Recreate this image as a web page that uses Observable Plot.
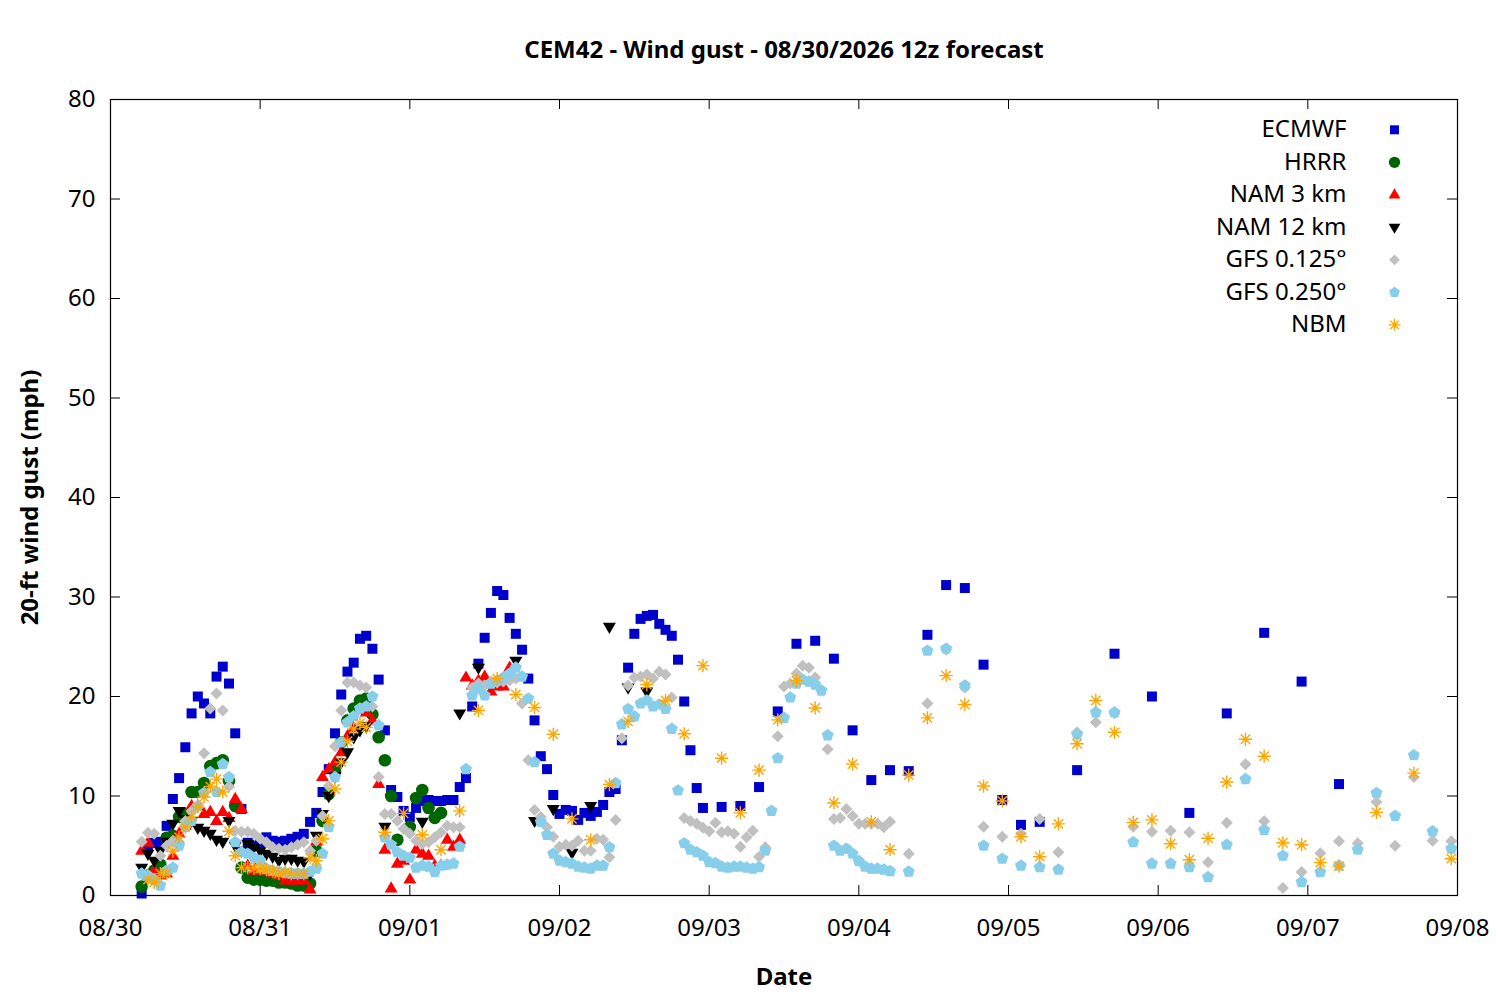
<!DOCTYPE html>
<html>
<head>
<meta charset="utf-8">
<script src="https://cdn.jsdelivr.net/npm/d3@7"></script>
<script src="https://cdn.jsdelivr.net/npm/@observablehq/plot@0.6"></script>
<style>
  html, body { margin: 0; padding: 0; background: #fff; }
  #chart { width: 1500px; height: 1000px; }
</style>
</head>
<body>
<div id="chart"></div>
<script>
// ---------- data: [hours since 08/30 00:00, gust mph] ----------
const titleText = "CEM42 - Wind gust - 08/30/2026 12z forecast";
const yLabel = "20-ft wind gust (mph)";
const xLabel = "Date";
const dayLabels = ["08/30","08/31","09/01","09/02","09/03","09/04","09/05","09/06","09/07","09/08"];
const yTicks = [0,10,20,30,40,50,60,70,80];
const modelNames = ["ECMWF","HRRR","NAM 3 km","NAM 12 km","GFS 0.125°","GFS 0.250°","NBM"];

const ecmwf = [[5,0.2],[6,4.9],[7,5.3],[8,5.4],[9,7.0],[10,9.7],[11,11.8],[12,14.9],[13,18.3],[14,20.0],[15,19.3],[16,18.3],[17,22.0],[18,23.0],[19,21.3],[20,16.3],[21,8.7],[22,5.3],[23,5.0],[24,5.2],[25,5.85],[26,5.5],[27,5.4],[28,5.5],[29,5.7],[30,5.9],[31,6.2],[32,7.4],[33,8.3],[34,10.4],[35,12.7],[36,16.3],[37,20.2],[38,22.5],[39,23.4],[40,25.8],[41,26.1],[42,24.8],[43,21.7],[44,16.6],[45,10.6],[46,9.9],[47,8.5],[48,7.9],[49,8.8],[50,9.5],[51,9.6],[52,9.5],[53,9.5],[54,9.6],[55,9.6],[56,10.9],[57,11.8],[58,19.0],[59,23.3],[60,25.9],[61,28.4],[62,30.6],[63,30.2],[64,27.9],[65,26.3],[66,24.7],[67,21.8],[68,17.6],[69,14.0],[70,12.7],[71,10.1],[72,8.2],[73,8.6],[74,8.5],[75,7.6],[76,8.3],[77,8.0],[78,8.4],[79,9.1],[80,10.4],[81,10.7],[82,15.6],[83,22.9],[84,26.3],[85,27.8],[86,28.1],[87,28.2],[88,27.3],[89,26.7],[90,26.1],[91,23.7],[92,19.5],[93,14.6],[94,10.8],[95,8.8],[98,8.9],[101,9.0],[104,10.9],[107,18.5],[110,25.3],[113,25.6],[116,23.8],[119,16.6],[122,11.6],[125,12.6],[128,12.5],[131,26.2],[134,31.2],[137,30.9],[140,23.2],[143,9.6],[146,7.1],[149,7.4],[155,12.6],[161,24.3],[167,20.0],[173,8.3],[179,18.3],[185,26.4],[191,21.5],[197,11.2]];

const hrrr = [[5,0.9],[6,2.0],[7,2.5],[8,3.1],[9,5.8],[10,6.0],[11,7.9],[12,8.2],[13,10.4],[14,10.4],[15,11.3],[16,13.0],[17,13.3],[18,13.6],[19,11.5],[20,9.0],[21,2.8],[22,1.8],[23,1.6],[24,1.6],[25,1.5],[26,1.5],[27,1.3],[28,1.3],[29,1.2],[30,1.0],[31,1.0],[32,1.2],[33,4.5],[34,7.5],[35,10.2],[36,12.5],[37,15.4],[38,17.6],[39,18.8],[40,19.6],[41,19.8],[42,18.2],[43,15.9],[44,13.6],[45,10.0],[46,5.6],[48,6.9],[49,9.8],[50,10.6],[51,8.8],[52,7.8],[53,8.3]];

const nam3 = [[5,4.5],[6,5.3],[7,2.5],[8,2.0],[9,2.2],[10,4.0],[11,6.2],[12,7.0],[13,9.0],[14,9.0],[15,8.2],[16,8.4],[17,7.5],[18,8.4],[19,7.8],[20,9.7],[21,8.7],[22,3.0],[23,2.5],[24,3.5],[25,2.5],[26,2.2],[27,2.0],[28,1.5],[29,1.5],[30,1.5],[31,1.5],[32,0.6],[33,5.4],[34,11.9],[35,12.7],[36,13.4],[37,14.4],[38,16.0],[39,16.8],[40,18.7],[41,18.4],[42,17.6],[43,11.2],[44,4.6],[45,0.7],[46,3.2],[47,3.5],[48,1.6],[49,4.6],[50,4.2],[51,4.0],[52,3.0],[53,3.0],[54,5.6],[55,4.9],[56,5.6],[57,21.9],[58,21.1],[59,21.6],[60,22.0],[61,20.5],[62,21.0],[63,21.0],[64,22.9]];

const nam12 = [[5,2.8],[6,4.2],[7,3.5],[8,4.5],[9,5.4],[10,7.2],[11,8.5],[12,7.7],[13,7.5],[14,6.8],[15,6.5],[16,6.2],[17,5.6],[18,5.4],[19,7.5],[20,5.0],[21,4.5],[22,5.2],[23,4.85],[24,4.5],[25,4.2],[26,3.9],[27,3.5],[28,3.7],[29,3.7],[30,3.5],[31,3.4],[32,2.2],[33,6.0],[34,8.2],[35,10.0],[36,12.0],[37,13.4],[38,14.4],[39,15.9],[40,16.6],[41,17.0],[44,6.9],[50,7.4],[56,18.3],[59,22.9],[65,23.6],[68,7.5],[71,8.7],[74,4.3],[77,9.0],[80,27.0],[83,20.9],[86,20.5]];

const gfs125 = [[5,5.4],[6,6.3],[7,6.2],[8,4.0],[9,5.0],[10,5.5],[11,5.3],[12,7.5],[13,8.5],[14,8.9],[15,14.3],[16,18.8],[17,20.3],[18,18.6],[19,10.95],[20,6.5],[21,6.4],[22,6.4],[23,6.2],[24,5.7],[25,5.35],[26,4.85],[27,4.7],[28,4.6],[29,4.85],[30,5.1],[31,5.35],[32,4.5],[33,5.5],[34,8.0],[35,11.0],[36,15.0],[37,18.6],[38,21.4],[39,21.4],[40,21.1],[41,20.9],[42,19.0],[43,11.9],[44,8.2],[45,8.2],[46,7.5],[47,6.7],[48,6.2],[49,5.5],[50,5.2],[51,5.35],[52,5.85],[53,6.35],[54,7.0],[55,6.85],[56,6.85],[58,20.9],[59,21.3],[60,21.1],[61,21.5],[62,21.4],[63,21.5],[64,21.6],[65,21.8],[66,19.3],[67,13.6],[68,8.6],[69,7.9],[70,6.85],[71,5.9],[72,4.9],[73,5.1],[74,5.0],[75,5.5],[76,4.5],[77,4.5],[78,5.7],[79,5.6],[80,3.85],[81,7.6],[82,15.8],[83,21.1],[84,21.9],[85,22.0],[86,22.2],[87,21.8],[88,22.5],[89,22.2],[90,19.9],[92,7.8],[93,7.5],[94,7.2],[95,6.8],[96,6.45],[97,7.3],[98,6.35],[99,6.45],[100,6.2],[101,4.9],[102,5.85],[103,6.5],[104,3.9],[105,4.85],[107,16.0],[108,21.0],[109,21.3],[110,22.3],[111,23.1],[112,22.9],[113,21.9],[115,14.7],[116,7.7],[117,7.8],[118,8.7],[119,8.0],[120,7.2],[121,7.2],[122,7.2],[123,7.2],[124,6.85],[125,7.4],[128,4.2],[131,19.3],[134,24.7],[137,20.9],[140,6.9],[143,5.9],[146,6.2],[149,7.7],[152,4.35],[155,16.4],[158,17.4],[161,18.3],[164,6.9],[167,6.4],[170,6.5],[173,6.35],[176,3.35],[179,7.3],[182,13.2],[185,7.45],[188,0.75],[191,2.35],[194,4.25],[197,5.45],[200,5.25],[203,9.4],[206,5.0],[209,11.9],[212,5.5],[215,5.45]];

const gfs250 = [[5,2.2],[6,2.0],[7,1.6],[8,1.0],[9,2.5],[10,2.8],[11,5.0],[12,6.9],[13,7.5],[14,9.0],[15,10.3],[16,12.4],[17,10.4],[18,13.2],[19,11.9],[20,5.35],[21,4.35],[22,4.2],[23,3.8],[24,3.5],[25,2.7],[26,2.5],[27,2.4],[28,2.3],[29,2.2],[30,2.2],[31,2.2],[32,2.4],[33,2.7],[34,4.2],[35,6.9],[36,11.9],[37,15.4],[38,17.4],[39,18.0],[40,18.8],[41,19.0],[42,20.0],[43,17.1],[44,5.85],[45,5.1],[46,4.35],[47,4.0],[48,3.8],[49,2.8],[50,3.0],[51,2.9],[52,2.35],[53,3.0],[54,3.1],[55,3.2],[56,4.9],[57,12.7],[58,20.1],[59,20.8],[60,20.1],[61,21.3],[62,21.6],[63,21.9],[64,22.3],[65,22.9],[66,22.0],[67,19.8],[68,13.4],[69,7.4],[70,6.1],[71,4.2],[72,3.5],[73,3.35],[74,3.2],[75,2.9],[76,2.8],[77,2.7],[78,3.0],[79,3.0],[80,4.85],[81,11.3],[82,17.2],[83,18.75],[84,18.0],[85,19.3],[86,19.6],[87,19.0],[88,19.2],[89,18.75],[90,16.75],[91,10.55],[92,5.25],[93,4.6],[94,4.35],[95,4.0],[96,3.35],[97,3.25],[98,2.9],[99,2.8],[100,2.9],[101,2.9],[102,2.8],[103,2.7],[104,2.85],[105,4.5],[106,8.5],[107,13.8],[108,17.85],[109,19.9],[110,21.3],[111,21.7],[112,21.5],[113,21.2],[114,20.6],[115,16.1],[116,5.0],[117,4.5],[118,4.7],[119,4.2],[120,3.45],[121,2.9],[122,2.7],[123,2.7],[124,2.6],[125,2.45],[128,2.4],[131,24.6],[134,24.8],[137,21.1],[140,5.0],[143,3.7],[146,3.0],[149,2.85],[152,2.6],[155,16.2],[158,18.4],[161,18.4],[164,5.35],[167,3.2],[170,3.2],[173,2.85],[176,1.85],[179,5.1],[182,11.7],[185,6.6],[188,4.0],[191,1.35],[194,2.35],[197,3.0],[200,4.6],[203,10.3],[206,8.0],[209,14.1],[212,6.45],[215,4.7]];

const nbm = [[6,1.6],[7,1.3],[8,2.2],[9,2.2],[10,4.45],[11,5.85],[12,6.9],[13,7.9],[14,8.9],[15,9.9],[16,10.95],[17,11.7],[18,10.4],[19,6.45],[20,4.0],[21,2.8],[22,2.8],[23,2.75],[24,2.7],[25,2.6],[26,2.45],[27,2.2],[28,2.35],[29,2.2],[30,2.2],[31,2.2],[32,3.8],[33,3.5],[34,5.7],[35,7.5],[36,10.7],[37,13.4],[38,15.5],[39,16.75],[40,17.3],[41,16.9],[44,6.35],[47,8.25],[50,6.1],[53,4.6],[56,8.5],[59,18.6],[62,21.8],[65,20.2],[68,18.9],[71,16.2],[74,7.7],[77,5.6],[80,11.15],[83,17.5],[86,21.2],[89,19.6],[92,16.25],[95,23.1],[98,13.8],[101,8.3],[104,12.6],[107,17.65],[110,21.6],[113,18.85],[116,9.3],[119,13.2],[122,7.4],[125,4.6],[128,12.1],[131,17.85],[134,22.1],[137,19.2],[140,11.0],[143,9.5],[146,5.9],[149,3.9],[152,7.2],[155,15.25],[158,19.6],[161,16.4],[164,7.35],[167,7.6],[170,5.2],[173,3.6],[176,5.75],[179,11.4],[182,15.7],[185,14.0],[188,5.3],[191,5.1],[194,3.3],[197,2.95],[203,8.35],[209,12.3],[215,3.7]];

// ---------- helpers ----------
const START = Date.UTC(2026, 7, 30);
const toDate = h => new Date(START + h * 3600000);
const dayTicks = dayLabels.map((l, i) => toDate(24 * i));

const sc = size => Math.sqrt(size / Math.PI) / 6;
const symSquare = {draw(c, s){ const h = 5.0*sc(s); c.moveTo(-h,-h); c.lineTo(h,-h); c.lineTo(h,h); c.lineTo(-h,h); c.closePath(); }};
const symCircle = {draw(c, s){ const r = 6.3*sc(s); c.moveTo(r,0); c.arc(0,0,r,0,2*Math.PI); c.closePath(); }};
const symTriUp = {draw(c, s){ const k = sc(s); c.moveTo(0,-7.2*k); c.lineTo(6.5*k,4*k); c.lineTo(-6.5*k,4*k); c.closePath(); }};
const symTriDown = {draw(c, s){ const k = sc(s); c.moveTo(0,7.2*k); c.lineTo(6.5*k,-4*k); c.lineTo(-6.5*k,-4*k); c.closePath(); }};
const symDiamond = {draw(c, s){ const h = 6.0*sc(s); c.moveTo(0,-h); c.lineTo(h,0); c.lineTo(0,h); c.lineTo(-h,0); c.closePath(); }};
const symPentagon = {draw(c, s){ const r = 6.3*sc(s); for (let i = 0; i < 5; i++){ const a = -Math.PI/2 + i*2*Math.PI/5; const x = r*Math.cos(a), y = r*Math.sin(a); if (i) c.lineTo(x,y); else c.moveTo(x,y);} c.closePath(); }};
const symAsterisk = {draw(c, s){ const r = 6.6*sc(s); for (let i = 0; i < 4; i++){ const a = i*Math.PI/4; c.moveTo(-r*Math.cos(a), -r*Math.sin(a)); c.lineTo(r*Math.cos(a), r*Math.sin(a)); } }};

const seriesList = [
  {data: ecmwf,  symbol: symSquare,   fill: "#0000cc", stroke: "none"},
  {data: hrrr,   symbol: symCircle,   fill: "#006400", stroke: "none"},
  {data: nam3,   symbol: symTriUp,    fill: "#ff0000", stroke: "none"},
  {data: nam12,  symbol: symTriDown,  fill: "#000000", stroke: "none"},
  {data: gfs125, symbol: symDiamond,  fill: "#c0c0c0", stroke: "none"},
  {data: gfs250, symbol: symPentagon, fill: "#87ceeb", stroke: "none"},
  {data: nbm,    symbol: symAsterisk, fill: "none",    stroke: "#ffa500"}
].map((s, i) => ({...s, name: modelNames[i]}));

const W = 1500, H = 1000, mL = 110, mR = 43, mT = 99, mB = 105;
const plotW = W - mL - mR, plotH = H - mT - mB;
const tickLen = 10;
const FS = 24;

const marks = [];
for (const s of seriesList) {
  marks.push(Plot.dot(s.data, {
    x: d => toDate(d[0]), y: d => d[1], r: 6, symbol: s.symbol,
    fill: s.fill, stroke: s.stroke, strokeWidth: 1.4
  }));
}
// legend
seriesList.forEach((s, i) => {
  const dy = 30.3 + i * 32.5;
  marks.push(Plot.text([s.name], {frameAnchor: "top-right", dx: -111, dy, textAnchor: "end", lineAnchor: "middle", fontSize: FS, fill: "black"}));
  marks.push(Plot.dot([s.name], {frameAnchor: "top-right", dx: -63, dy, r: 5.4, symbol: s.symbol, fill: s.fill, stroke: s.stroke, strokeWidth: 1.3}));
});
// axes and inward mirrored ticks
marks.push(
  Plot.axisY({ticks: yTicks, tickSize: 0, tickPadding: 15, fontSize: FS, label: null}),
  Plot.axisX({ticks: dayTicks, tickSize: 0, tickPadding: 23, fontSize: FS, label: null,
              tickFormat: d => dayLabels[Math.round((d - START) / 86400000)]}),
  Plot.tickY(yTicks, {y: d => d, insetRight: plotW - tickLen, stroke: "black"}),
  Plot.tickY(yTicks, {y: d => d, insetLeft: plotW - tickLen, stroke: "black"}),
  Plot.tickX(dayTicks, {x: d => d, insetTop: plotH - tickLen, stroke: "black"}),
  Plot.tickX(dayTicks, {x: d => d, insetBottom: plotH - tickLen, stroke: "black"}),
  Plot.frame({stroke: "black", strokeWidth: 1.2}),
  Plot.text([titleText], {frameAnchor: "top", dy: -49, lineAnchor: "middle", fontWeight: "bold", fontSize: FS, fill: "black"}),
  Plot.text([xLabel], {frameAnchor: "bottom", dy: 82, lineAnchor: "middle", fontWeight: "bold", fontSize: FS, fill: "black"}),
  Plot.text([yLabel], {frameAnchor: "left", dx: -80, rotate: -90, textAnchor: "middle", lineAnchor: "middle", fontWeight: "bold", fontSize: FS, fill: "black"})
);

const chart = Plot.plot({
  width: W, height: H,
  marginLeft: mL, marginRight: mR, marginTop: mT, marginBottom: mB,
  style: {fontFamily: "'Noto Sans', 'Open Sans', sans-serif", fontSize: FS + "px", color: "black", background: "white", overflow: "visible"},
  x: {type: "utc", domain: [toDate(0), toDate(216)]},
  y: {domain: [0, 80]},
  marks
});
document.getElementById("chart").appendChild(chart);
</script>
</body>
</html>
